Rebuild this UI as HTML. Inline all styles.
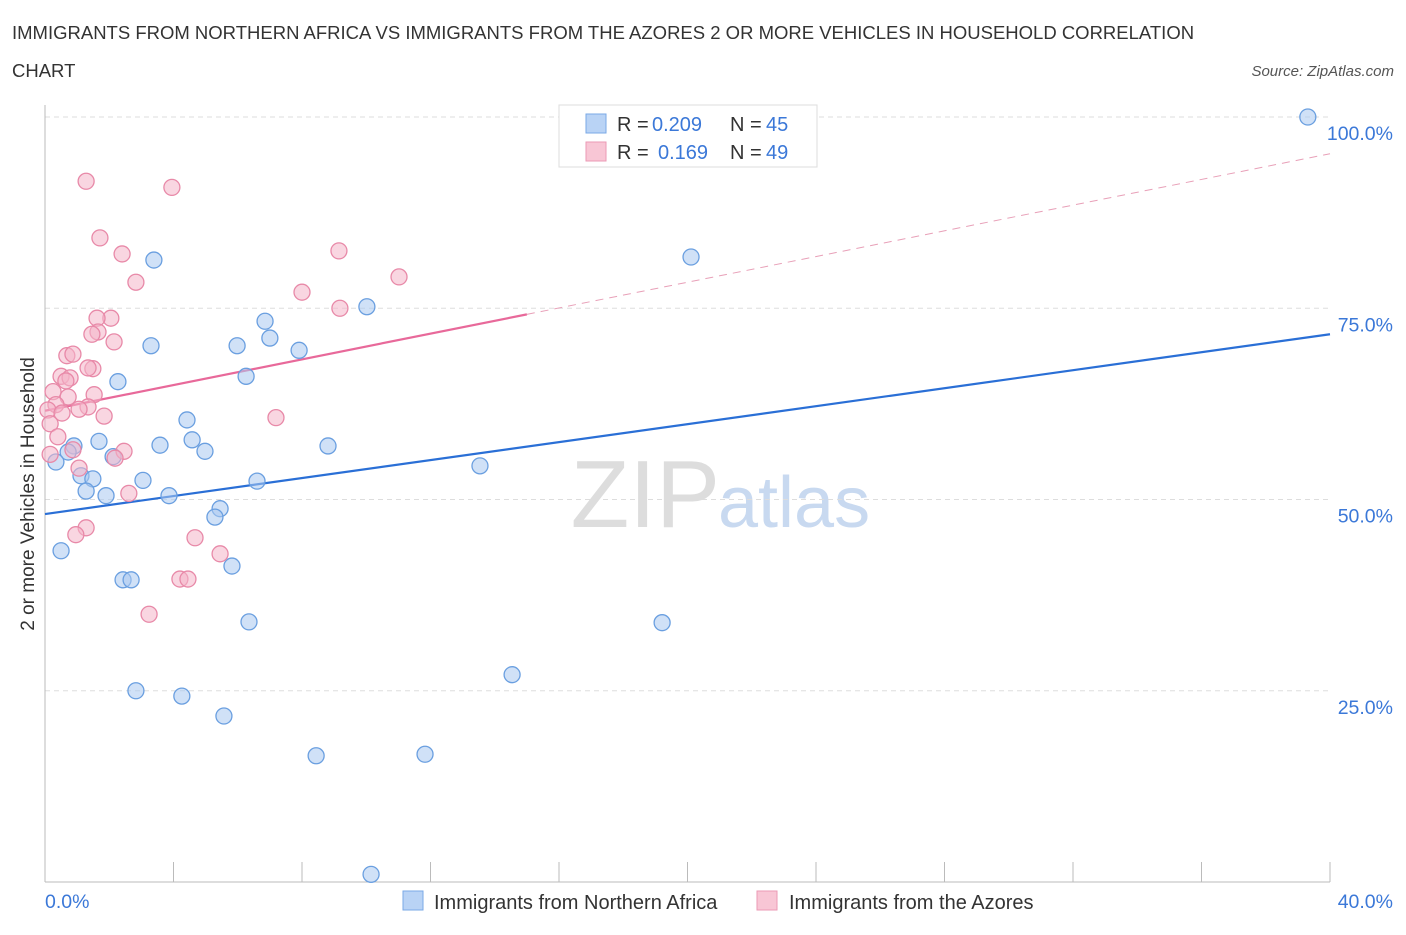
<!DOCTYPE html>
<html><head><meta charset="utf-8"><style>
body{margin:0;background:#fff;font-family:"Liberation Sans",sans-serif;}
svg text{font-family:"Liberation Sans",sans-serif;}
</style></head><body>
<svg id="chart" width="1406" height="930" viewBox="0 0 1406 930" xmlns="http://www.w3.org/2000/svg">
<text x="12" y="39" font-size="18.5" fill="#333">IMMIGRANTS FROM NORTHERN AFRICA VS IMMIGRANTS FROM THE AZORES 2 OR MORE VEHICLES IN HOUSEHOLD CORRELATION</text>
<text x="12" y="77" font-size="18.5" fill="#333">CHART</text>
<text x="1394" y="76" font-size="15" fill="#555" font-style="italic" text-anchor="end">Source: ZipAtlas.com</text>
<text x="720" y="527" font-size="96" fill="#ddd" text-anchor="end" font-family="Liberation Serif">ZIP</text>
<text x="718" y="527" font-size="72" fill="#c8d9f0">atlas</text>
<g id="grid"></g><g id="axes"></g><g id="lines"></g><g id="pts"></g>
<text transform="translate(34,494) rotate(-90)" font-size="19" fill="#333" text-anchor="middle">2 or more Vehicles in Household</text>
<text x="45" y="908" font-size="19.5" fill="#3b78d8">0.0%</text>
<text x="1393" y="908" font-size="19.5" fill="#3b78d8" text-anchor="end">40.0%</text>
<g>
<rect x="559" y="105" width="258" height="62" fill="#fff" stroke="#ddd"/>
<rect x="586" y="114" width="20" height="19" fill="#b9d3f5" stroke="#7aa8e6"/>
<rect x="586" y="142" width="20" height="19" fill="#f8c6d5" stroke="#eb9ab5"/>
<text x="617" y="131" font-size="20" fill="#333">R =</text>
<text x="652" y="131" font-size="20" fill="#3b78d8">0.209</text>
<text x="730" y="131" font-size="20" fill="#333">N =</text>
<text x="766" y="131" font-size="20" fill="#3b78d8">45</text>
<text x="617" y="159" font-size="20" fill="#333">R =</text>
<text x="658" y="159" font-size="20" fill="#3b78d8">0.169</text>
<text x="730" y="159" font-size="20" fill="#333">N =</text>
<text x="766" y="159" font-size="20" fill="#3b78d8">49</text>
</g>
<g>
<rect x="403" y="891" width="20" height="19" fill="#b9d3f5" stroke="#7aa8e6"/>
<text x="434" y="909" font-size="20" fill="#333">Immigrants from Northern Africa</text>
<rect x="757" y="891" width="20" height="19" fill="#f8c6d5" stroke="#eb9ab5"/>
<text x="789" y="909" font-size="20" fill="#333">Immigrants from the Azores</text>
</g>
</svg>
<script>
const yTicks=[25,50,75,100];
const xTicks=[0,4,8,12,16,20,24,28,32,36,40];
const blueX=[39.31,20.11,3.39,10.02,6.85,3.30,5.98,7.00,7.91,6.26,2.27,4.42,3.58,4.58,8.81,4.98,1.68,0.90,0.72,2.12,0.34,13.54,3.05,1.12,1.49,6.60,1.28,1.90,3.86,5.45,5.29,0.50,5.82,2.43,2.68,6.35,19.21,14.54,2.83,4.26,5.57,8.44,11.83,10.15];
const blueY=[100.0,81.7,81.3,75.2,73.3,70.1,70.1,71.1,69.5,66.1,65.4,60.4,57.1,57.8,57.0,56.3,57.6,57.0,56.2,55.6,54.9,54.4,52.5,53.1,52.7,52.4,51.1,50.5,50.5,48.8,47.7,43.3,41.3,39.5,39.5,34.0,33.9,27.1,25.0,24.3,21.7,16.5,16.7,1.0];
const pinkX=[1.28,3.95,1.71,9.15,2.40,11.02,2.83,8.00,9.18,2.05,1.62,1.65,1.46,2.15,0.68,0.87,1.49,1.34,0.50,0.78,0.65,0.25,0.72,1.53,0.34,0.09,1.34,0.53,1.06,1.84,7.19,0.16,0.40,0.87,2.46,2.18,0.16,1.06,2.61,1.28,0.96,4.67,5.45,4.20,4.45,3.24];
const pinkY=[91.6,90.8,84.2,82.5,82.1,79.1,78.4,77.1,75.0,73.7,73.7,71.9,71.6,70.6,68.8,69.0,67.1,67.2,66.1,65.9,65.5,64.1,63.4,63.7,62.4,61.7,62.1,61.3,61.8,60.9,60.7,59.9,58.2,56.5,56.3,55.4,55.9,54.1,50.8,46.3,45.4,45.0,42.9,39.6,39.6,35.0];
const blueTrend=[48.1,71.6];
const pinkTrend=[61.6,95.2];
const pinkSolidEnd=15.0;
const yPctLabels=["25.0%","50.0%","75.0%","100.0%"];
const NS="http://www.w3.org/2000/svg";
const X=v=>45+v/40*1285, Y=v=>882-v/100*765;
function mk(tag,attrs,parent){const e=document.createElementNS(NS,tag);for(const k in attrs)e.setAttribute(k,attrs[k]);document.getElementById(parent).appendChild(e);return e;}
yTicks.forEach((t,i)=>{
 const g=mk('line',{x1:45,x2:1330,y1:Y(t),y2:Y(t),stroke:'#ddd','stroke-dasharray':'5,4'},'grid');
 
 
 const tx=mk('text',{x:1393,y:Y(t)+23,'font-size':19.5,fill:'#3b78d8','text-anchor':'end'},'grid');
 tx.textContent=yPctLabels[i];
 
 
});
const ax=mk('line',{x1:45,x2:45,y1:105,y2:882,stroke:'#bbb'},'axes');


const bx=mk('line',{x1:45,x2:1330,y1:882,y2:882,stroke:'#bbb'},'axes');


xTicks.forEach(t=>{
 const l=mk('line',{x1:X(t),x2:X(t),y1:862,y2:882,stroke:'#bbb'},'axes');
 
 
});
function pts(xs,ys,fill,stroke,name){xs.forEach((x,i)=>{
 const c=mk('circle',{cx:X(x),cy:Y(ys[i]),r:8,fill:fill,'fill-opacity':0.55,stroke:stroke,'stroke-width':1.3},'pts');
 
 
});}
pts(blueX,blueY,'#a9c8f0','#6a9fe0','point-northern-africa');
pts(pinkX,pinkY,'#f4b5c8','#e889a8','point-azores');
const bl=mk('line',{x1:X(0),y1:Y(blueTrend[0]),x2:X(40),y2:Y(blueTrend[1]),stroke:'#2a6fd6','stroke-width':2.2},'lines');


const pAt=x=>pinkTrend[0]+(pinkTrend[1]-pinkTrend[0])*x/40;
const pl=mk('line',{x1:X(0),y1:Y(pAt(0)),x2:X(pinkSolidEnd),y2:Y(pAt(pinkSolidEnd)),stroke:'#e8699a','stroke-width':2.2},'lines');


const pd=mk('line',{x1:X(pinkSolidEnd),y1:Y(pAt(pinkSolidEnd)),x2:X(40),y2:Y(pAt(40)),stroke:'#e8a0b8','stroke-width':1,'stroke-dasharray':'8,6'},'lines');


</script>
</body></html>
